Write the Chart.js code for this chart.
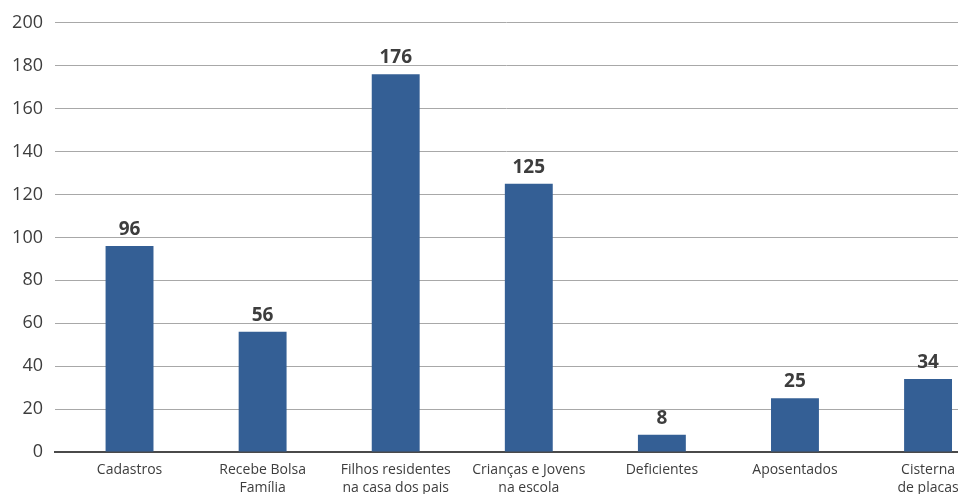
<!DOCTYPE html>
<html>
<head>
<meta charset="utf-8">
<script src="https://cdn.jsdelivr.net/npm/chart.js@4/dist/chart.umd.min.js"></script>
<style>
  html, body { margin: 0; padding: 0; background: #ffffff; overflow: hidden; }
  #wrap { width: 958px; height: 494px; position: relative; }
</style>
</head>
<body>
<div id="wrap"><canvas id="c"></canvas></div>
<script>
const categories = [
  ['Cadastros'],
  ['Recebe Bolsa', 'Família'],
  ['Filhos residentes', 'na casa dos pais'],
  ['Crianças e Jovens', 'na escola'],
  ['Deficientes'],
  ['Aposentados'],
  ['Cisterna', 'de placas']
];
const values = [96, 56, 176, 125, 8, 25, 34];
const yMin = 0, yMax = 200, yStep = 20;

const textColor = '#3d3d3d';
const barColor = '#345f95';

const dataLabels = {
  id: 'dataLabels',
  afterDatasetsDraw(chart) {
    const ctx = chart.ctx;
    const meta = chart.getDatasetMeta(0);
    ctx.save();
    ctx.font = 'bold 19px "Open Sans"';
    ctx.fillStyle = textColor;
    ctx.textAlign = 'center';
    ctx.textBaseline = 'alphabetic';
    meta.data.forEach((bar, i) => {
      ctx.fillText(String(values[i]), bar.x, bar.y - 11);
    });
    ctx.restore();
  }
};

new Chart(document.getElementById('c'), {
  type: 'bar',
  data: {
    datasets: [{
      data: values.map((v, i) => ({ x: i, y: v })),
      backgroundColor: barColor,
      borderWidth: 0,
      barPercentage: 0.36,
      categoryPercentage: 1
    }]
  },
  options: {
    responsive: true,
    maintainAspectRatio: false,
    animation: false,
    layout: { padding: { top: 20, right: 0, bottom: 0, left: 0 } },
    plugins: { legend: { display: false }, tooltip: { enabled: false } },
    scales: {
      x: {
        type: 'linear',
        offset: false,
        min: -0.56,
        max: 6.225,
        grid: { display: false, drawTicks: false, offset: false },
        border: { display: true, color: '#4a4a4a', width: 2 },
        afterBuildTicks(scale) {
          scale.ticks = categories.map((c, i) => ({ value: i }));
        },
        afterFit(scale) {
          scale.height = 42;
          scale.paddingLeft = 0;
          scale.paddingRight = 0;
        },
        ticks: {
          autoSkip: false,
          maxRotation: 0,
          minRotation: 0,
          padding: 9,
          color: textColor,
          font: { family: 'Open Sans', size: 14, lineHeight: 1.3 },
          callback: (v) => categories[v] !== undefined ? categories[v] : ''
        }
      },
      y: {
        min: yMin,
        max: yMax,
        grid: { color: '#a8a8a8', lineWidth: 1, drawTicks: false },
        border: { display: false },
        afterFit(scale) { scale.width = 55; },
        ticks: {
          stepSize: yStep,
          padding: 12,
          color: textColor,
          font: { family: 'Open Sans', size: 18 }
        }
      }
    }
  },
  plugins: [dataLabels]
});
</script>
</body>
</html>
